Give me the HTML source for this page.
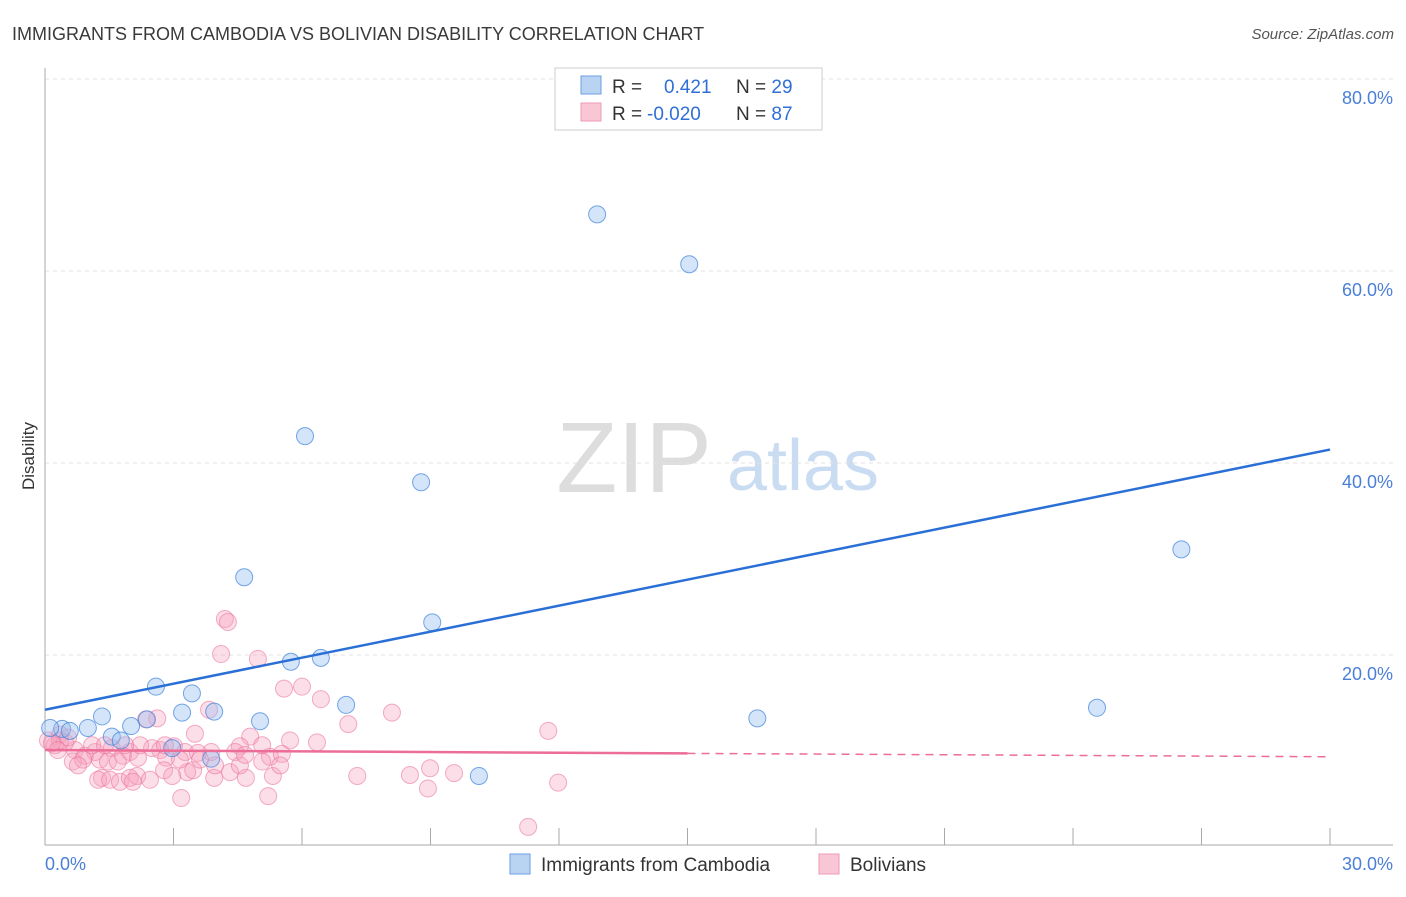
<!DOCTYPE html>
<html><head><meta charset="utf-8"><style>
body{margin:0;background:#fff;font-family:"Liberation Sans",sans-serif}
svg text{font-family:"Liberation Sans",sans-serif}
</style></head><body>
<svg id="c" width="1406" height="892">
<text x="12" y="40" font-size="18" fill="#3a3a3a">IMMIGRANTS FROM CAMBODIA VS BOLIVIAN DISABILITY CORRELATION CHART</text>
<text x="1394" y="39" font-size="15" fill="#555" font-style="italic" text-anchor="end">Source: ZipAtlas.com</text>
<text x="34" y="456" font-size="17" fill="#333" transform="rotate(-90 34 456)" text-anchor="middle">Disability</text>
<g><text x="634" y="492" font-size="100" fill="#ddd" font-family="Liberation Serif" text-anchor="middle">ZIP</text><text x="803" y="490" font-size="72" fill="#c9dcf2" text-anchor="middle">atlas</text></g>
<g id="grid"></g><g id="marks"></g>
<g>
<rect x="555" y="68" width="267" height="62" fill="#fff" stroke="#ccc"/>
<rect x="581" y="76" width="20" height="18" fill="#b9d3f3" stroke="#6a9fe0"/>
<rect x="581" y="103" width="20" height="18" fill="#f9c6d6" stroke="#ee9ab5"/>
<text x="612" y="93" font-size="19" fill="#333">R = <tspan fill="#2f6fd6" x="664">0.421</tspan><tspan fill="#333" x="736">N = </tspan><tspan fill="#2f6fd6">29</tspan></text>
<text x="612" y="120" font-size="19" fill="#333">R = <tspan fill="#2f6fd6" x="647">-0.020</tspan><tspan fill="#333" x="736">N = </tspan><tspan fill="#2f6fd6">87</tspan></text>
</g>
<g>
<rect x="510" y="854" width="20" height="20" fill="#b9d3f3" stroke="#6a9fe0"/>
<text x="541" y="871" font-size="19" fill="#333">Immigrants from Cambodia</text>
<rect x="819" y="854" width="20" height="20" fill="#f9c6d6" stroke="#ee9ab5"/>
<text x="850" y="871" font-size="19" fill="#333">Bolivians</text>
</g>
</svg>
<script>
const yTicks=[20,40,60,80];
const yTickLabels=["20.0%","40.0%","60.0%","80.0%"];
const xTickLabels=["0.0%","30.0%"];
const blueX=[12.89,15.04,6.07,8.78,26.53,4.65,9.04,5.74,6.44,2.59,3.43,7.03,24.56,3.20,3.95,1.33,5.02,2.38,2.01,16.63,0.40,1.00,1.56,1.77,2.97,3.88,10.13,0.12,0.58];
const blueY=[65.9,60.7,42.8,38.0,31.0,28.1,23.4,19.3,19.7,16.7,16.0,14.8,14.5,14.0,14.1,13.6,13.1,13.3,12.6,13.4,12.3,12.4,11.5,11.1,10.3,9.2,7.4,12.4,12.1];
const pinkX=[4.20,4.27,4.11,4.97,5.58,6.0,6.44,3.83,2.62,2.36,8.1,7.08,11.75,4.79,3.50,5.25,6.35,4.55,3.88,5.53,3.01,2.50,2.69,3.27,1.98,1.56,1.17,0.70,0.23,0.07,0.35,0.47,0.93,1.28,1.47,1.82,2.17,2.83,3.57,4.44,0.65,0.89,1.70,5.07,1.33,1.24,1.52,1.75,1.98,2.15,2.05,2.78,3.32,3.46,2.97,3.95,4.32,4.69,5.32,7.29,8.52,8.99,9.55,8.94,11.98,3.18,5.21,11.28,0.35,0.54,0.16,1.10,2.22,3.62,4.55,5.49,2.45,0.77,0.30,1.40,1.87,2.80,3.15,3.97,4.67,5.07,5.72];
const pinkY=[23.75,23.44,20.1,19.6,16.5,16.7,15.4,14.3,13.4,13.3,14.0,12.8,12.1,11.5,11.8,9.4,10.9,10.5,9.9,9.7,10.5,10.3,10.1,9.9,9.9,10.3,9.9,10.1,10.6,11.1,11.7,10.9,9.5,9.1,8.9,9.5,9.3,9.3,9.8,9.9,8.9,9.1,8.9,8.9,7.2,7.0,7.0,6.8,7.2,7.4,6.8,8.0,7.8,8.0,7.4,7.2,7.8,7.2,7.4,7.4,7.5,8.2,7.7,6.1,6.7,5.1,5.3,2.1,11.1,11.4,10.8,10.6,10.6,9.1,8.5,8.5,7.0,8.5,10.1,10.6,10.6,10.6,9.1,8.5,9.6,10.6,11.1];
const blueTrend=[14.3,41.4];
const pinkTrend=[10.1,9.4];
const NS="http://www.w3.org/2000/svg";
const X=v=>45+v/30*1285, Y=v=>847-v/20*192;
function mk(t,a,p){const e=document.createElementNS(NS,t);for(const k in a)e.setAttribute(k,a[k]);p.appendChild(e);return e;}
const g=document.getElementById('grid'),m=document.getElementById('marks');
yTicks.forEach((t,i)=>{
 const l=mk('line',{x1:45,y1:Y(t),x2:1393,y2:Y(t),stroke:'#e2e2e2','stroke-dasharray':'4 4'},g);
 
 
 const tx=mk('text',{x:1393,y:Y(t)+25,'font-size':18,fill:'#4a7fd6','text-anchor':'end'},g);tx.textContent=yTickLabels[i];
 
 
});
mk('line',{x1:45,y1:68,x2:45,y2:845,stroke:'#aaa'},g);
mk('line',{x1:45,y1:845,x2:1393,y2:845,stroke:'#aaa'},g);
for(let i=1;i<=10;i++){const t=mk('line',{x1:X(i*3),y1:828,x2:X(i*3),y2:845,stroke:'#aaa'},g);
 
 }
[[45,'start'],[1393,'end']].forEach((p,i)=>{const t=mk('text',{x:p[0],y:870,'font-size':18,fill:'#4a7fd6','text-anchor':p[1]},g);t.textContent=xTickLabels[i];
 
 });
pinkX.forEach((x,i)=>{const c=mk('circle',{cx:X(x),cy:Y(pinkY[i]),r:8.5,fill:'rgba(246,160,188,0.35)',stroke:'rgba(235,120,160,0.6)','stroke-width':1},m);
 
 });
blueX.forEach((x,i)=>{const c=mk('circle',{cx:X(x),cy:Y(blueY[i]),r:8.5,fill:'rgba(150,190,240,0.4)',stroke:'rgba(60,130,220,0.7)','stroke-width':1},m);
 
 });
const bl=mk('line',{x1:X(0),y1:Y(blueTrend[0]),x2:X(30),y2:Y(blueTrend[1]),stroke:'#2a6fd6','stroke-width':2.5},m);


const pm=pinkTrend[0]+(pinkTrend[1]-pinkTrend[0])*0.5;
const pl=mk('line',{x1:X(0),y1:Y(pinkTrend[0]),x2:X(15),y2:Y(pm),stroke:'#ec6d96','stroke-width':2.5},m);


const pd=mk('line',{x1:X(15),y1:Y(pm),x2:X(30),y2:Y(pinkTrend[1]),stroke:'#ec6d96','stroke-width':1.5,'stroke-dasharray':'8 6'},m);


</script>
</body></html>
